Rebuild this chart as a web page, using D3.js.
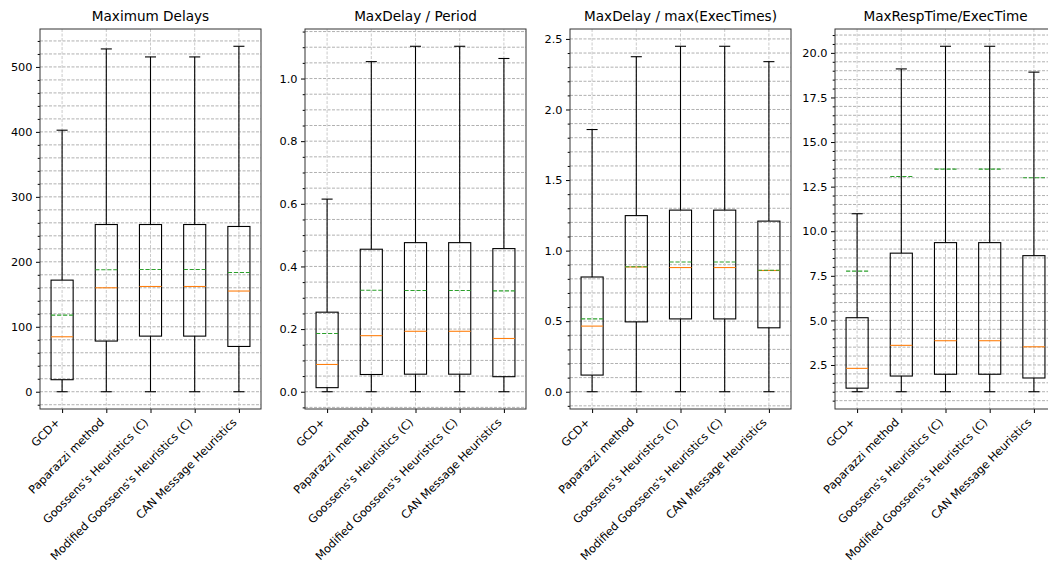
<!DOCTYPE html>
<html>
<head>
<meta charset="utf-8">
<script src="https://cdn.jsdelivr.net/npm/d3@7"></script>
<style>
  body { margin: 0; background: #fff; }
  svg { font-family: "DejaVu Sans", sans-serif; }
</style>
</head>
<body>
<svg id="chart" width="1048" height="566"></svg>
<script>
// categories shared by all four panels
const categories = ["GCD+", "Paparazzi method", "Goossens's Heuristics (C)",
                    "Modified Goossens's Heuristics (C)", "CAN Message Heuristics"];

const titles = ["Maximum Delays", "MaxDelay / Period", "MaxDelay / max(ExecTimes)", "MaxRespTime/ExecTime"];

// panel 1 : maximum delays
const delayLow  = [0, 0, 0, 0, 0];
const delayQ1   = [18.5, 78, 85.6, 85.6, 69.7];
const delayMed  = [84.6, 160, 162, 162, 155];
const delayMean = [118, 187.7, 188.2, 188.2, 183.6];
const delayQ3   = [171.8, 257.4, 257.4, 257.4, 254.4];
const delayHigh = [402.6, 527.7, 515.4, 515.4, 531.8];

// panel 2 : max delay / period
const periodLow  = [0, 0, 0, 0, 0];
const periodQ1   = [0.013, 0.055, 0.056, 0.056, 0.048];
const periodMed  = [0.087, 0.179, 0.193, 0.193, 0.170];
const periodMean = [0.186, 0.324, 0.323, 0.323, 0.322];
const periodQ3   = [0.254, 0.455, 0.476, 0.476, 0.457];
const periodHigh = [0.615, 1.054, 1.103, 1.103, 1.064];

// panel 3 : max delay / max(exec times)
const execLow  = [0, 0, 0, 0, 0];
const execQ1   = [0.118, 0.495, 0.516, 0.516, 0.453];
const execMed  = [0.465, 0.884, 0.880, 0.880, 0.859];
const execMean = [0.516, 0.886, 0.919, 0.919, 0.861];
const execQ3   = [0.813, 1.248, 1.287, 1.287, 1.209];
const execHigh = [1.858, 2.374, 2.448, 2.448, 2.339];

// panel 4 : max response time / exec time
const respLow  = [1, 1, 1, 1, 1];
const respQ1   = [1.2, 1.88, 1.98, 1.98, 1.77];
const respMed  = [2.31, 3.6, 3.86, 3.86, 3.52];
const respMean = [7.76, 13.07, 13.48, 13.48, 13.0];
const respQ3   = [5.15, 8.77, 9.36, 9.36, 8.63];
const respHigh = [10.98, 19.1, 20.37, 20.37, 18.92];

// tick steps (major / minor) and label decimals
const majorSteps = [100, 0.2, 0.5, 2.5];
const minorSteps = [20, 0.05, 0.1, 0.5];
const tickDecimals = [0, 1, 1, 1];

const panels = [
    [delayLow, delayQ1, delayMed, delayMean, delayQ3, delayHigh],
    [periodLow, periodQ1, periodMed, periodMean, periodQ3, periodHigh],
    [execLow, execQ1, execMed, execMean, execQ3, execHigh],
    [respLow, respQ1, respMed, respMean, respQ3, respHigh]
];

const lefts = [40, 305, 570, 835];
const pw = 221, plotTop = 29, plotBottom = 409;

const svg = d3.select("#chart");

const stepTicks = (d0, d1, step) => {
    let out = [];
    for (let k = Math.ceil(d0 / step - 1e-9); k * step <= d1 + 1e-9; k++) out.push(+(k * step).toFixed(6));
    return out;
};

panels.forEach((p, pi) => {
    let [low, q1, med, mean, q3, high] = p;
    let lo = d3.min(low), hi = d3.max(high);
    let pad = (hi - lo) * 0.05;

    let y = d3.scaleLinear().domain([lo - pad, hi + pad]).range([plotBottom, plotTop]);
    let x = d3.scaleLinear().domain([0.5, 5.5]).range([0, pw]);

    let g = svg.append("g").attr("transform", "translate(" + lefts[pi] + ",0)");

    let majors = stepTicks(lo - pad, hi + pad, majorSteps[pi]);
    let minors = stepTicks(lo - pad, hi + pad, minorSteps[pi]);
    let pos = d3.range(1, categories.length + 1);

    // grid
    g.selectAll(".hgrid").data(minors).enter().append("line")
        .attr("x1", 0).attr("x2", pw)
        .attr("y1", d => y(d)).attr("y2", d => y(d))
        .attr("stroke", "#a8a8a8").attr("stroke-width", 0.9)
        .attr("stroke-dasharray", "3,1.5");

    g.selectAll(".vgrid").data(pos).enter().append("line")
        .attr("x1", d => x(d)).attr("x2", d => x(d))
        .attr("y1", plotTop).attr("y2", plotBottom)
        .attr("stroke", "#c4c4c4").attr("stroke-width", 0.9)
        .attr("stroke-dasharray", "3,1.5");

    // y axis
    let yAxis = g.append("g")
        .call(d3.axisLeft(y).tickValues(majors).tickSize(4).tickPadding(3.5)
            .tickFormat(d => d.toFixed(tickDecimals[pi])));
    yAxis.select(".domain").remove();
    yAxis.selectAll("text").attr("font-size", "11.3px").attr("fill", "#000")
        .attr("font-family", "DejaVu Sans");

    let yMinor = g.append("g")
        .call(d3.axisLeft(y).tickValues(minors.filter(v => majors.indexOf(v) < 0)).tickSize(2.3).tickFormat(""));
    yMinor.select(".domain").remove();

    // x axis
    let xAxis = g.append("g")
        .attr("transform", "translate(0," + plotBottom + ")")
        .call(d3.axisBottom(x).tickValues(pos).tickSize(4).tickFormat(d => categories[d - 1]));
    xAxis.select(".domain").remove();
    xAxis.selectAll("text")
        .attr("x", 0).attr("y", 0).attr("dy", null)
        .attr("text-anchor", "end")
        .attr("font-size", "11.3px").attr("fill", "#000")
        .attr("font-family", "DejaVu Sans")
        .attr("transform", "translate(-2,14) rotate(-45)");

    // boxes
    let boxes = g.selectAll(".box").data(pos).enter().append("g");

    boxes.append("line")
        .attr("x1", d => x(d)).attr("x2", d => x(d))
        .attr("y1", d => y(q1[d - 1])).attr("y2", d => y(low[d - 1]))
        .attr("stroke", "#000").attr("stroke-width", 1.1);
    boxes.append("line")
        .attr("x1", d => x(d)).attr("x2", d => x(d))
        .attr("y1", d => y(q3[d - 1])).attr("y2", d => y(high[d - 1]))
        .attr("stroke", "#000").attr("stroke-width", 1.1);

    [low, high].forEach(arr => {
        boxes.append("line")
            .attr("x1", d => x(d - 0.125)).attr("x2", d => x(d + 0.125))
            .attr("y1", d => y(arr[d - 1])).attr("y2", d => y(arr[d - 1]))
            .attr("stroke", "#000").attr("stroke-width", 1.1);
    });

    boxes.append("rect")
        .attr("x", d => x(d - 0.25)).attr("width", d => x(d + 0.25) - x(d - 0.25))
        .attr("y", d => y(q3[d - 1])).attr("height", d => y(q1[d - 1]) - y(q3[d - 1]))
        .attr("fill", "none").attr("stroke", "#000").attr("stroke-width", 1.1);

    boxes.append("line")
        .attr("x1", d => x(d - 0.25)).attr("x2", d => x(d + 0.25))
        .attr("y1", d => y(med[d - 1])).attr("y2", d => y(med[d - 1]))
        .attr("stroke", "#ff7f0e").attr("stroke-width", 1.1);

    boxes.append("line")
        .attr("x1", d => x(d - 0.25)).attr("x2", d => x(d + 0.25))
        .attr("y1", d => y(mean[d - 1])).attr("y2", d => y(mean[d - 1]))
        .attr("stroke", "#2ca02c").attr("stroke-width", 1.1)
        .attr("stroke-dasharray", "4.2,1.8");

    // frame
    g.append("rect")
        .attr("x", 0).attr("y", plotTop).attr("width", pw).attr("height", plotBottom - plotTop)
        .attr("fill", "none").attr("stroke", "#333").attr("stroke-width", 1);

    g.append("text")
        .attr("x", pw / 2).attr("y", 21)
        .attr("text-anchor", "middle")
        .attr("font-size", "13.6px")
        .text(titles[pi]);
});
</script>
</body>
</html>
